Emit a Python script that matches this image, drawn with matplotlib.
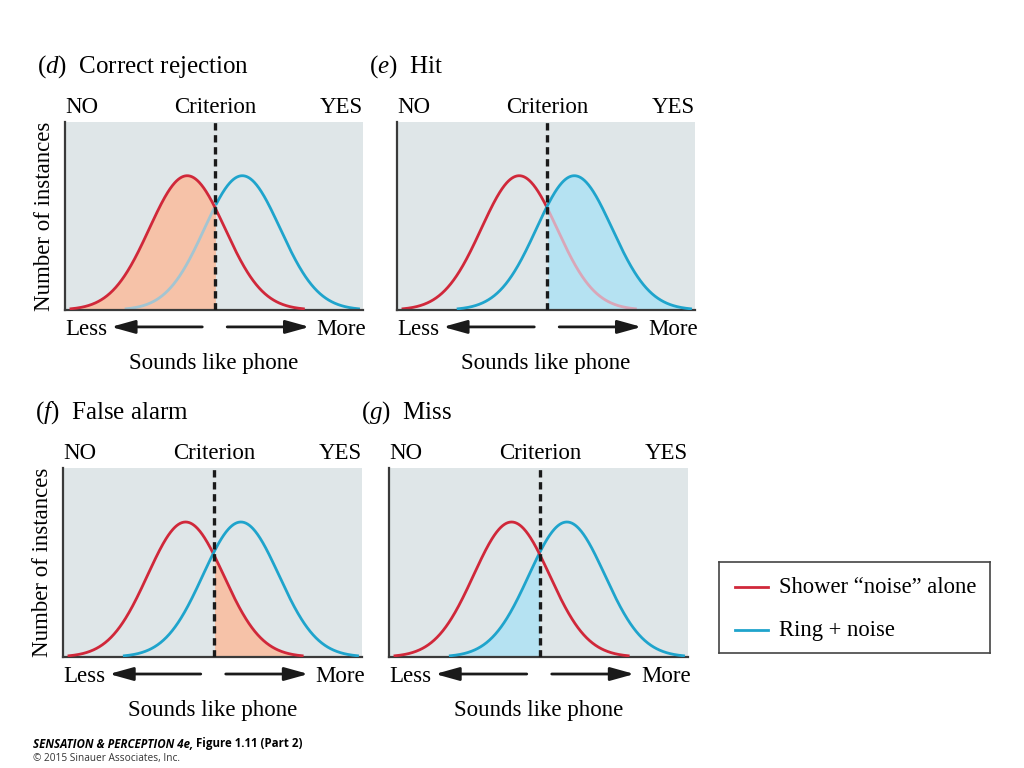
import matplotlib.pyplot as plt
import numpy as np

plt.rcParams['font.family'] = ['Liberation Serif', 'DejaVu Serif']
plt.rcParams['mathtext.fontset'] = 'custom'
plt.rcParams['mathtext.rm'] = 'Liberation Serif'
plt.rcParams['mathtext.it'] = 'Liberation Serif:italic'

# distribution parameters (x axis runs 0..10)
noise_mean = 4.1
signal_mean = 5.95
spread = 1.27
tail = 3.9
criterion = 5.05

panel_letters = ['d', 'e', 'f', 'g']
panel_titles = ['Correct rejection', 'Hit', 'False alarm', 'Miss']
# which curve is shaded and on which side of the criterion
shaded_curve = ['noise', 'signal', 'noise', 'signal']
shaded_side = ['left', 'right', 'right', 'left']

legend_labels = ['Shower \u201cnoise\u201d alone', 'Ring + noise']

RED = '#d0283a'
BLUE = '#1fa4cc'
RED_FILL = '#f6c2a8'
BLUE_FILL = '#b5e2f2'
RED_PALE = '#d9a6b8'
BLUE_PALE = '#a3c5d2'
BG = '#dfe6e8'


def curve(mean):
    x = np.linspace(mean - tail, mean + tail, 400)
    return x, np.exp(-(x - mean) ** 2 / (2 * spread ** 2))


fig = plt.figure(figsize=(10.24, 7.68), dpi=100)

boxes = [
    [65 / 1024, 1 - 310 / 768, 298 / 1024, 188 / 768],
    [397 / 1024, 1 - 310 / 768, 298 / 1024, 188 / 768],
    [63 / 1024, 1 - 657 / 768, 299 / 1024, 189 / 768],
    [389 / 1024, 1 - 657 / 768, 299 / 1024, 189 / 768],
]

for i, box in enumerate(boxes):
    ax = fig.add_axes(box)
    ax.set_facecolor(BG)
    ax.set_xlim(0, 10)
    ax.set_ylim(0, 1.4)
    ax.set_xticks([])
    ax.set_yticks([])
    for s in ['top', 'right']:
        ax.spines[s].set_visible(False)
    for s in ['left', 'bottom']:
        ax.spines[s].set_color('#3a3a3a')
        ax.spines[s].set_linewidth(1.6)

    xr, yr = curve(noise_mean)
    xb, yb = curve(signal_mean)

    if shaded_curve[i] == 'noise':
        xs, ys, fc = xr, yr, RED_FILL
        xo, yo, oc, pale = xb, yb, BLUE, BLUE_PALE
        sc = RED
    else:
        xs, ys, fc = xb, yb, BLUE_FILL
        xo, yo, oc, pale = xr, yr, RED, RED_PALE
        sc = BLUE
    if shaded_side[i] == 'left':
        m = xs <= criterion
        inside = xo <= criterion
    else:
        m = xs >= criterion
        inside = xo >= criterion

    ax.fill_between(xs[m], 0, ys[m], color=fc, lw=0, zorder=1)
    ax.plot(xs, ys, color=sc, lw=2, zorder=3)
    if i in (0, 1):
        # the other curve shows through the shade, washed out
        ax.plot(xo[~inside], yo[~inside], color=oc, lw=2, zorder=2)
        ax.plot(xo[inside], yo[inside], color=pale, lw=2, zorder=2)
    else:
        ax.plot(xo, yo, color=oc, lw=2, zorder=3)

    ax.axvline(criterion, color='#1a1a1a', lw=2.4, ls=(0, (2.2, 1.4)), zorder=4)

    ax.text(-0.095, 1.295, '($\\mathit{%s}$)  %s' % (panel_letters[i], panel_titles[i]),
            transform=ax.transAxes, fontsize=18, ha='left', va='center')
    ax.text(0.0, 1.075, 'NO', transform=ax.transAxes, fontsize=16.5, ha='left', va='center')
    ax.text(criterion, 1.075, 'Criterion', transform=ax.get_xaxis_transform(),
            fontsize=16.5, ha='center', va='center')
    ax.text(1.0, 1.075, 'YES', transform=ax.transAxes, fontsize=16.5, ha='right', va='center')

    ax.text(0.0, -0.103, 'Less', transform=ax.transAxes, fontsize=16.5, ha='left', va='center')
    ax.text(1.01, -0.103, 'More', transform=ax.transAxes, fontsize=16.5, ha='right', va='center')
    ax.annotate('', xy=(0.145, -0.09), xytext=(0.47, -0.09), xycoords='axes fraction',
                arrowprops=dict(arrowstyle='-|>,head_length=0.9,head_width=0.25',
                                color='#1a1a1a', lw=2, mutation_scale=16))
    ax.annotate('', xy=(0.83, -0.09), xytext=(0.535, -0.09), xycoords='axes fraction',
                arrowprops=dict(arrowstyle='-|>,head_length=0.9,head_width=0.25',
                                color='#1a1a1a', lw=2, mutation_scale=16))
    ax.text(0.5, -0.285, 'Sounds like phone', transform=ax.transAxes, fontsize=16.5,
            ha='center', va='center')

    if i in (0, 2):
        ax.text(-0.068, 0.5, 'Number of instances', transform=ax.transAxes, fontsize=16.5,
                rotation=90, ha='center', va='center')

# legend box
lax = fig.add_axes([719 / 1024, 1 - 653 / 768, 271 / 1024, 91 / 768])
lax.set_xlim(0, 1)
lax.set_ylim(0, 1)
lax.set_xticks([])
lax.set_yticks([])
for s in lax.spines.values():
    s.set_color('#444444')
    s.set_linewidth(1.2)
for lab, col, yy in zip(legend_labels, [RED, BLUE], [0.72, 0.25]):
    lax.plot([0.06, 0.18], [yy, yy], color=col, lw=2)
    lax.text(0.22, yy, lab, fontsize=16.3, ha='left', va='center')

# footer: two pieces on one line, second placed after the first
t1 = fig.text(33 / 1024, 1 - 744 / 768, 'SENSATION & PERCEPTION 4e,', family='Open Sans',
              fontsize=8.3, weight='bold', style='italic', ha='left', va='center')
fig.canvas.draw()
bb = t1.get_window_extent()
fig.text((bb.x1 + 3) / 1024, 1 - 744 / 768, 'Figure 1.11 (Part 2)', family='Open Sans',
         fontsize=8.3, weight='bold', ha='left', va='center')
fig.text(33 / 1024, 1 - 758 / 768, '\u00a9 2015 Sinauer Associates, Inc.', family='Open Sans',
         fontsize=7.3, ha='left', va='center', color='#333333')

fig.savefig('out.png', dpi=100)
